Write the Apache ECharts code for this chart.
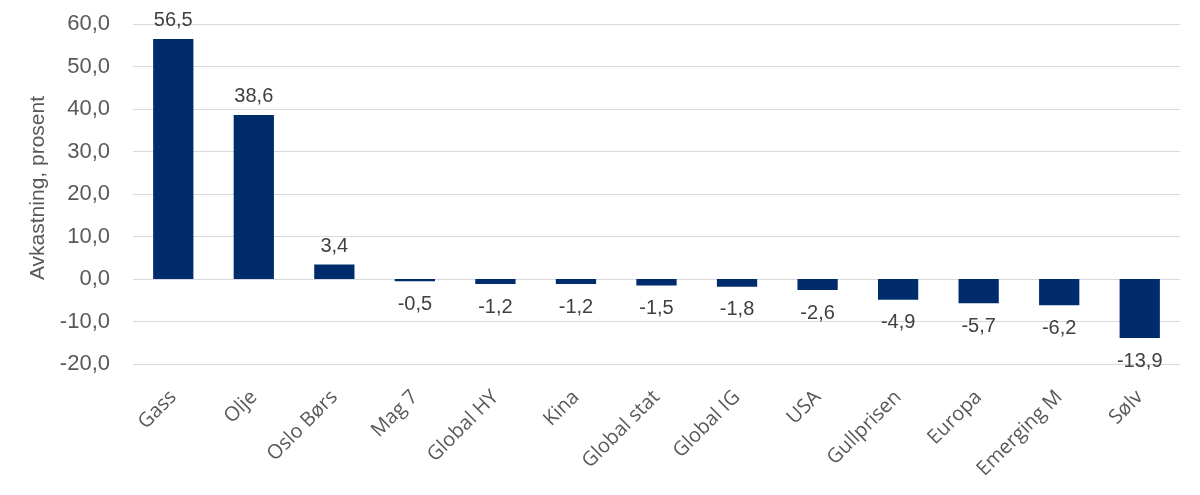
<!DOCTYPE html>
<html>
<head>
<meta charset="utf-8">
<script src="https://cdn.jsdelivr.net/npm/echarts@6/dist/echarts.min.js"></script>
<style>html,body{margin:0;padding:0;background:#fff}#c{width:1200px;height:495px}</style>
</head>
<body>
<div id="c"></div>
<script>
const categories = ["Gass","Olje","Oslo Børs","Mag 7","Global HY","Kina","Global stat","Global IG","USA","Gullprisen","Europa","Emerging M","Sølv"];
const values = [56.5, 38.6, 3.4, -0.5, -1.2, -1.2, -1.5, -1.8, -2.6, -4.9, -5.7, -6.2, -13.9];
const yTitle = "Avkastning, prosent";

const fmt = v => v.toFixed(1).replace('.', ',');
const chart = echarts.init(document.getElementById('c'), null, {renderer: 'canvas'});
chart.setOption({
  animation: false,
  grid: {left: 133, right: 20, top: 24, bottom: 131, containLabel: false},
  xAxis: {
    type: 'category',
    data: categories,
    axisLine: {show: false, onZero: false},
    axisTick: {show: false},
    axisLabel: {rotate: 45, margin: 30, fontSize: 20, color: '#595959', fontFamily: 'Open Sans', interval: 0}
  },
  yAxis: {
    type: 'value',
    min: -20, max: 60, interval: 10,
    name: yTitle,
    nameLocation: 'middle',
    nameGap: 81,
    nameTextStyle: {fontSize: 21, color: '#595959', fontFamily: 'Liberation Sans', padding: [0, 0, 0, 12]},
    axisLine: {show: false},
    axisTick: {show: false},
    axisLabel: {formatter: fmt, fontSize: 22, color: '#595959', margin: 23, fontFamily: 'Liberation Sans'},
    splitLine: {lineStyle: {color: '#d9d9d9', width: 1}}
  },
  series: [{
    type: 'bar',
    data: values.map(v => ({
      value: v,
      label: {position: v >= 0 ? 'top' : 'bottom', distance: v >= 0 ? 8 : 13}
    })),
    barWidth: '50%',
    itemStyle: {color: '#002C6E'},
    label: {show: true, formatter: p => fmt(p.value), fontSize: 20, color: '#404040', fontFamily: 'Liberation Sans'}
  }]
});
</script>
</body>
</html>
